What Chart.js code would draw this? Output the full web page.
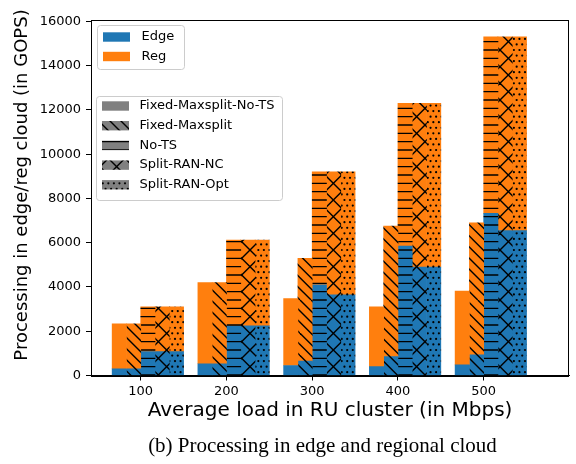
<!DOCTYPE html>
<html>
<head>
<meta charset="utf-8">
<script src="https://cdn.jsdelivr.net/npm/chart.js@4"></script>
<style>
  html, body { margin: 0; padding: 0; background: #fff; }
  #wrap { position: relative; width: 576px; height: 464px; }
  #caption {
    position: absolute; left: 0; top: 433px; width: 576px;
    padding-left: 69px; box-sizing: border-box;
    text-align: center; font-family: "Liberation Serif", serif; font-size: 21px; color: #000;
  }
</style>
</head>
<body>
<div id="wrap">
  <canvas id="chart" width="576" height="464"></canvas>
  <div id="caption">(b) Processing in edge and regional cloud</div>
</div>
<script>
// x categories (Mbps) and y ticks
const loads = [100, 200, 300, 400, 500];
const yTicks = [0, 2000, 4000, 6000, 8000, 10000, 12000, 14000, 16000];

const strategies = ["Fixed-Maxsplit-No-TS", "Fixed-Maxsplit", "No-TS", "Split-RAN-NC", "Split-RAN-Opt"];
const hatches = ["", "\\", "-", "x", "."];
// hatch lines / dot rows per 100px cell
const hatchDensity = [0, 9, 12, 6, 18];

// processing in edge cloud (GOPS)
const edgeFixedNoTS = [300, 530, 450, 400, 480];
const edgeFixed = [300, 530, 650, 850, 930];
const edgeNoTS = [1080, 2250, 4100, 5850, 7330];
const edgeSplitNC = [1080, 2250, 3650, 4900, 6550];
const edgeSplitOpt = [1080, 2250, 3650, 4900, 6550];

// processing in regional cloud (GOPS), stacked on top of edge
const regFixedNoTS = [2030, 3670, 3030, 2700, 3340];
const regFixed = [2030, 3670, 4650, 5900, 5970];
const regNoTS = [2020, 3870, 5100, 6450, 7970];
const regSplitNC = [2020, 3870, 5550, 7400, 8750];
const regSplitOpt = [2020, 3870, 5550, 7400, 8750];

const edgeData = [edgeFixedNoTS, edgeFixed, edgeNoTS, edgeSplitNC, edgeSplitOpt];
const regData = [regFixedNoTS, regFixed, regNoTS, regSplitNC, regSplitOpt];

const BLUE = "#1f77b4";
const ORANGE = "#ff7f0e";
const GRAY = "#808080";

// matplotlib-like hatch tile (100px cell)
function hatchPattern(base, hatch, n) {
  const S = 100;
  const c = document.createElement("canvas");
  c.width = S; c.height = S;
  const g = c.getContext("2d");
  g.fillStyle = base;
  g.fillRect(0, 0, S, S);
  g.strokeStyle = "#000";
  g.fillStyle = "#000";
  g.lineWidth = 1.4;
  if (hatch === "\\" || hatch === "x") {
    for (let i = -n; i <= n; i++) {
      const o = (i * S) / n;
      g.beginPath(); g.moveTo(o, 0); g.lineTo(o + S, S); g.stroke();
    }
  }
  if (hatch === "x") {
    for (let i = -n; i <= n; i++) {
      const o = (i * S) / n;
      g.beginPath(); g.moveTo(o, S); g.lineTo(o + S, 0); g.stroke();
    }
  }
  if (hatch === "-") {
    for (let i = 0; i <= n; i++) {
      const y = (i * S) / n;
      g.beginPath(); g.moveTo(0, y); g.lineTo(S, y); g.stroke();
    }
  }
  if (hatch === ".") {
    const step = S / n;
    for (let r = 0; r <= n; r++) {
      const shift = r % 2 ? step / 2 : 0;
      for (let k = -1; k <= n; k++) {
        g.beginPath();
        g.arc(k * step + shift, r * step, 1.1, 0, Math.PI * 2);
        g.fill();
      }
    }
  }
  return g.createPattern(c, "repeat");
}

const datasets = [
  // empty first slot so each group sits like the matplotlib offsets
  { label: "pad", stack: "pad", data: loads.map((x) => ({ x, y: null })), backgroundColor: "rgba(0,0,0,0)" }
];
strategies.forEach((name, s) => {
  datasets.push({
    label: "Edge " + name,
    stack: "s" + s,
    data: loads.map((x, i) => ({ x, y: edgeData[s][i] })),
    backgroundColor: hatchPattern(BLUE, hatches[s], hatchDensity[s])
  });
  datasets.push({
    label: "Reg " + name,
    stack: "s" + s,
    data: loads.map((x, i) => ({ x, y: regData[s][i] })),
    backgroundColor: hatchPattern(ORANGE, hatches[s], hatchDensity[s])
  });
});

function box(ctx, x, y, w, h, r) {
  ctx.beginPath();
  ctx.moveTo(x + r, y);
  ctx.lineTo(x + w - r, y);
  ctx.quadraticCurveTo(x + w, y, x + w, y + r);
  ctx.lineTo(x + w, y + h - r);
  ctx.quadraticCurveTo(x + w, y + h, x + w - r, y + h);
  ctx.lineTo(x + r, y + h);
  ctx.quadraticCurveTo(x, y + h, x, y + h - r);
  ctx.lineTo(x, y + r);
  ctx.quadraticCurveTo(x, y, x + r, y);
  ctx.closePath();
  ctx.fillStyle = "rgba(255,255,255,0.8)";
  ctx.fill();
  ctx.strokeStyle = "#cccccc";
  ctx.lineWidth = 1;
  ctx.stroke();
}

const legendPatterns = hatches.map((h, i) => hatchPattern(GRAY, h, hatchDensity[i]));

const framePlugin = {
  id: "frameAndLegends",
  afterDraw(chart) {
    const { ctx, chartArea: a } = chart;
    ctx.save();
    ctx.strokeStyle = "#000";
    ctx.lineWidth = 1;
    ctx.strokeRect(Math.round(a.left) + 0.5, Math.round(a.top) + 0.5,
      Math.round(a.right - a.left) - 1, Math.round(a.bottom - a.top));

    // y label, centred a bit above the axes middle like the original
    ctx.save();
    ctx.translate(22.5, 185);
    ctx.rotate(-Math.PI / 2);
    ctx.font = "18px 'DejaVu Sans'";
    ctx.fillStyle = "#000";
    ctx.textAlign = "center";
    ctx.textBaseline = "middle";
    ctx.fillText("Processing in edge/reg cloud (in GOPS)", 0, 0);
    ctx.restore();

    ctx.font = "13px 'DejaVu Sans'";
    ctx.textBaseline = "middle";
    ctx.textAlign = "left";

    // legend: Edge / Reg
    box(ctx, 97.5, 25.5, 87, 44, 3);
    [["Edge", BLUE], ["Reg", ORANGE]].forEach(([txt, col], i) => {
      const cy = 37 + i * 19.5;
      ctx.fillStyle = col;
      ctx.fillRect(103, cy - 4.7, 27, 9.4);
      ctx.fillStyle = "#000";
      ctx.fillText(txt, 141.5, cy);
    });

    // legend: strategies
    box(ctx, 96.5, 96.5, 186, 104, 3);
    strategies.forEach((txt, i) => {
      const cy = 106 + i * 19.7;
      ctx.fillStyle = legendPatterns[i];
      ctx.fillRect(102, cy - 4.7, 27, 9.4);
      ctx.fillStyle = "#000";
      ctx.fillText(txt, 139.5, cy);
    });
    ctx.restore();
  }
};

const tickFont = { family: "DejaVu Sans", size: 13 };

new Chart(document.getElementById("chart"), {
  type: "bar",
  data: { datasets },
  plugins: [framePlugin],
  options: {
    responsive: false,
    animation: false,
    layout: { padding: { top: 20, right: 7, left: 0, bottom: 0 } },
    datasets: { bar: { barThickness: 14.29, borderWidth: 0 } },
    plugins: { legend: { display: false }, tooltip: { enabled: false } },
    scales: {
      x: {
        type: "linear",
        stacked: true,
        offset: false,
        min: 42,
        max: 599.5,
        afterBuildTicks: (s) => { s.ticks = loads.map((v) => ({ value: v })); },
        afterFit: (s) => { s.height = 88.5; },
        grid: { offset: false, drawOnChartArea: false, drawTicks: true, tickLength: 5, color: "#000", lineWidth: 1 },
        border: { display: true, color: "#000", width: 1 },
        ticks: { font: tickFont, color: "#000", padding: 3, maxRotation: 0, callback: (v) => String(v) },
        title: { display: true, text: "Average load in RU cluster (in Mbps)", font: { family: "DejaVu Sans", size: 20 }, color: "#000", padding: { top: 0, bottom: 41 } }
      },
      y: {
        stacked: true,
        min: 0,
        max: 16065,
        afterBuildTicks: (s) => { s.ticks = yTicks.map((v) => ({ value: v })); },
        afterFit: (s) => { s.width = 91; },
        grid: { drawOnChartArea: false, drawTicks: true, tickLength: 5, color: "#000", lineWidth: 1 },
        border: { display: true, color: "#000", width: 1 },
        ticks: { font: tickFont, color: "#000", padding: 5, callback: (v) => String(v) }
      }
    }
  }
});
</script>
</body>
</html>
